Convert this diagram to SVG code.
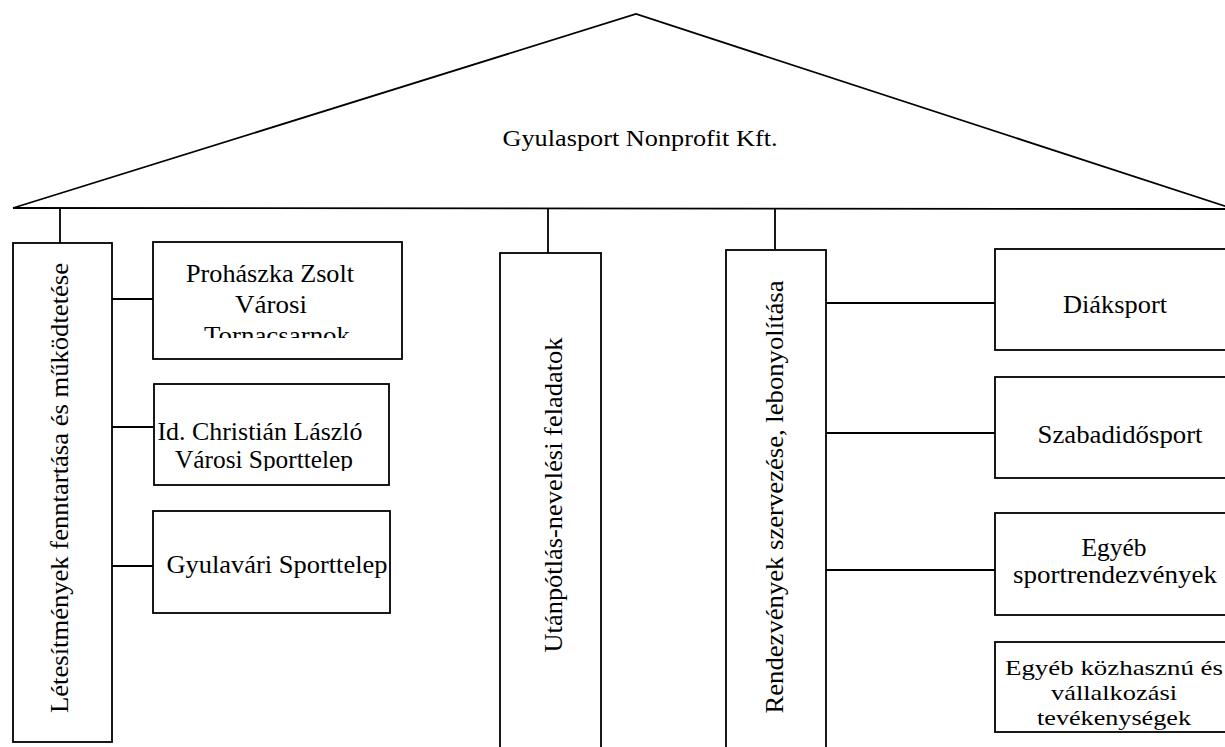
<svg xmlns="http://www.w3.org/2000/svg" width="1225" height="747" viewBox="0 0 1225 747" font-family="'Liberation Serif','DejaVu Serif',serif">
<style>
.box{fill:#fff;stroke:#000;stroke-width:1.8}
.ln{fill:none;stroke:#000;stroke-width:1.8}
text{font-family:"Liberation Serif","DejaVu Serif",serif;font-size:25px;fill:#000}
.c{text-anchor:middle}
.s{font-size:22px}
</style>
<defs>
<clipPath id="clipP"><rect x="150" y="240" width="260" height="98"/></clipPath>
<clipPath id="clipI"><rect x="150" y="380" width="245" height="91"/></clipPath>
</defs>
<rect width="1225" height="747" fill="#fff"/>
<g id="roof">
<path class="ln" d="M13 208 L636 14 L1240 211 M13 208 L1240 209"/>
<text class="c" x="640" y="146" font-size="23" style="font-size:23px" textLength="275" lengthAdjust="spacingAndGlyphs">Gyulasport Nonprofit Kft.</text>
</g>
<g id="connectors">
<path class="ln" d="M60 209 V243 M548 209 V253 M775 209 V250 M112 299 H153 M112 427 H153 M112 566 H153 M826 303 H995 M826 433 H995 M826 570 H995"/>
</g>
<g id="letesitmenyek">
<rect class="box" x="13" y="243" width="99" height="499"/>
<text class="c" transform="translate(68,488) rotate(-90)" textLength="450" lengthAdjust="spacingAndGlyphs">Létesítmények fenntartása és működtetése</text>
</g>
<g id="prohaszka">
<rect class="box" x="153" y="242" width="249" height="117"/>
<g clip-path="url(#clipP)">
<text class="c" x="270" y="282" textLength="168" lengthAdjust="spacingAndGlyphs">Prohászka Zsolt</text>
<text class="c" x="271" y="313" textLength="72" lengthAdjust="spacingAndGlyphs">Városi</text>
<text class="c" x="277" y="344" textLength="146" lengthAdjust="spacingAndGlyphs">Tornacsarnok</text>
</g>
</g>
<g id="christian">
<rect class="box" x="154" y="384" width="235" height="101"/>
<g clip-path="url(#clipI)">
<text class="c" x="260" y="440" textLength="205" lengthAdjust="spacingAndGlyphs">Id. Christián László</text>
<text class="c" x="264" y="468" textLength="178" lengthAdjust="spacingAndGlyphs">Városi Sporttelep</text>
</g>
</g>
<g id="gyulavari">
<rect class="box" x="153" y="511" width="237" height="102"/>
<text class="c" x="277" y="573" textLength="221" lengthAdjust="spacingAndGlyphs">Gyulavári Sporttelep</text>
</g>
<g id="utanpotlas">
<rect class="box" x="500" y="253" width="101" height="510"/>
<text class="c" transform="translate(562,495) rotate(-90)" textLength="315" lengthAdjust="spacingAndGlyphs">Utánpótlás-nevelési feladatok</text>
</g>
<g id="rendezvenyek">
<rect class="box" x="726" y="250" width="100" height="510"/>
<text class="c" transform="translate(783,497) rotate(-90)" textLength="433" lengthAdjust="spacingAndGlyphs">Rendezvények szervezése, lebonyolítása</text>
</g>
<g id="diaksport">
<rect class="box" x="995" y="249" width="245" height="101"/>
<text class="c" x="1115" y="313" textLength="104" lengthAdjust="spacingAndGlyphs">Diáksport</text>
</g>
<g id="szabadido">
<rect class="box" x="995" y="377" width="245" height="101"/>
<text class="c" x="1120" y="443" textLength="165" lengthAdjust="spacingAndGlyphs">Szabadidősport</text>
</g>
<g id="egyeb-sport">
<rect class="box" x="995" y="513" width="245" height="102"/>
<text class="c" x="1114" y="556" textLength="65" lengthAdjust="spacingAndGlyphs">Egyéb</text>
<text class="c" x="1115" y="583" textLength="204" lengthAdjust="spacingAndGlyphs">sportrendezvények</text>
</g>
<g id="egyeb-kozhasznu">
<rect class="box" x="995" y="642" width="245" height="90"/>
<text class="c s" x="1114" y="675" textLength="218" lengthAdjust="spacingAndGlyphs">Egyéb közhasznú és</text>
<text class="c s" x="1114" y="700" textLength="126" lengthAdjust="spacingAndGlyphs">vállalkozási</text>
<text class="c s" x="1114" y="725" textLength="154" lengthAdjust="spacingAndGlyphs">tevékenységek</text>
</g>
</svg>
